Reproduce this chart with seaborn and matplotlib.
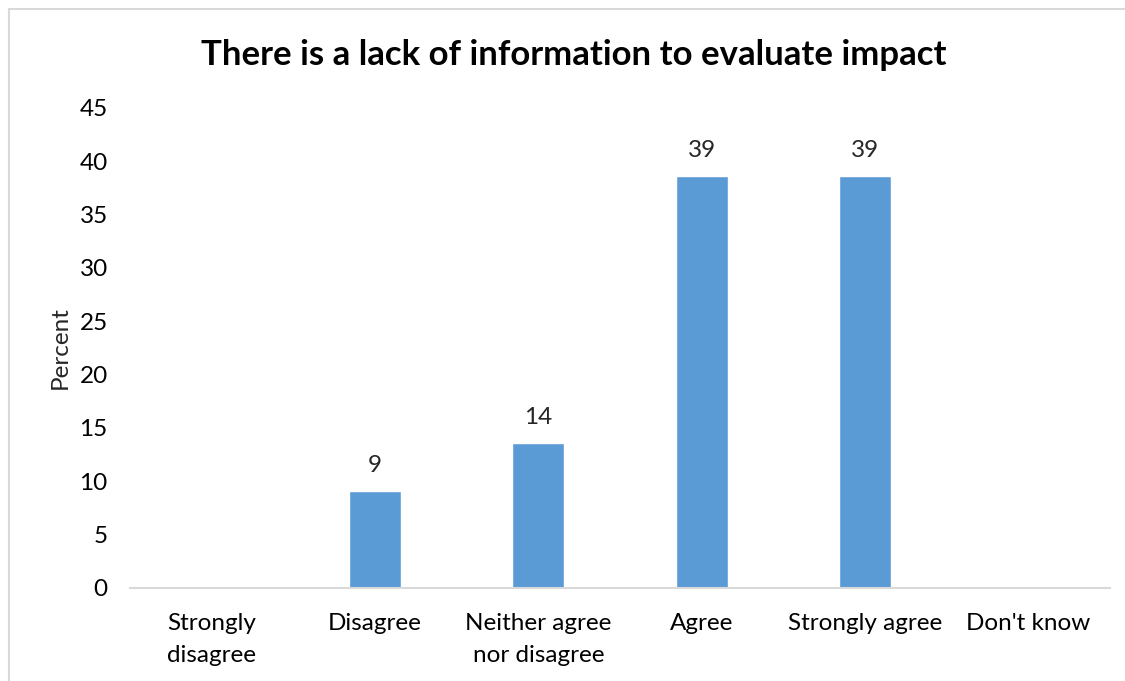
import matplotlib
matplotlib.use("Agg")
import matplotlib.pyplot as plt
import seaborn as sns
from matplotlib.patches import Rectangle

categories = ["Strongly\ndisagree", "Disagree", "Neither agree\nnor disagree", "Agree", "Strongly agree", "Don't know"]
values = [0, 9.1, 13.6, 38.6, 38.6, 0]
value_labels = ["", "9", "14", "39", "39", ""]
yticks = [0, 5, 10, 15, 20, 25, 30, 35, 40, 45]

sns.set_style("white")
plt.rcParams['font.family'] = ['Lato', 'DejaVu Sans']

fig = plt.figure(figsize=(11.25, 6.81), dpi=100)
ax = fig.add_axes([130/1125, (681-588)/681, (1110-130)/1125, (588-108)/681])

sns.barplot(x=categories, y=values, color="#5B9BD5", width=0.32, ax=ax, saturation=1)

fs = 17.5
ax.set_ylim(0, 45)
ax.set_yticks(yticks)
ax.set_xlim(-0.5, len(categories) - 0.5)
ax.set_xticks(range(len(categories)))
ax.set_xticklabels(categories, linespacing=1.65)
for s in ["top", "right", "left"]:
    ax.spines[s].set_visible(False)
ax.spines["bottom"].set_color("#d9d9d9")
ax.spines["bottom"].set_linewidth(1.5)
ax.tick_params(axis="both", length=0, labelsize=fs, colors="#000000")
ax.tick_params(axis="x", pad=18)
ax.tick_params(axis="y", pad=16)
ax.set_ylabel("Percent", fontsize=fs)
ax.yaxis.set_label_coords((71 - 130) / 980, 0.5)
ax.set_xlabel("")

ax.bar_label(ax.containers[0], labels=value_labels, padding=11, fontsize=fs)

fig.suptitle("There is a lack of information to evaluate impact", fontsize=25, fontweight="bold",
             color="#000000", x=574/1125, y=(681-55)/681, va="center")

fig.patches.append(Rectangle((9/1125, -0.01), 1.02, (681-9)/681 + 0.01, transform=fig.transFigure,
                             fill=False, edgecolor="#d9d9d9", linewidth=1.5))

fig.savefig("out.png", dpi=100)
